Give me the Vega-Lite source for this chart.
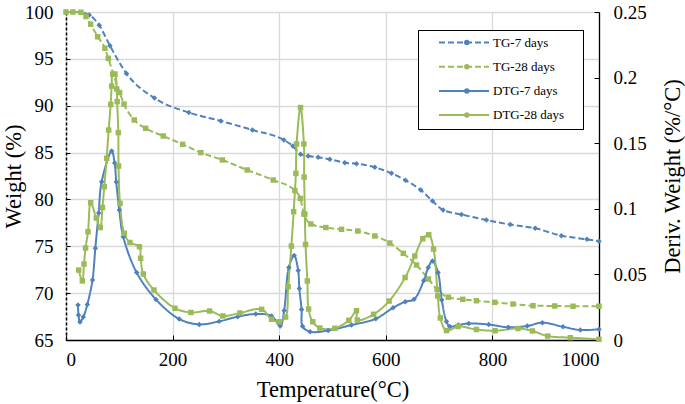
{
  "$schema": "https://vega.github.io/schema/vega-lite/v6.json",
  "width": 533,
  "height": 328,
  "autosize": {"type": "none"},
  "padding": {"left": 66, "top": 12, "right": 86, "bottom": 64},
  "background": "white",
  "config": {
    "font": "Liberation Serif",
    "view": {"stroke": null},
    "axis": {"labelColor": "black", "titleColor": "black", "labelFont": "Liberation Serif", "titleFont": "Liberation Serif", "titleFontWeight": "normal", "labelFontSize": 19, "titleFontSize": 22.5}
  },
  "datasets": {
    "tg": [
      {"series": "TG-7 days", "T": 0, "v": 100}, {"series": "TG-7 days", "T": 13, "v": 100}, {"series": "TG-7 days", "T": 28, "v": 99.95}, {"series": "TG-7 days", "T": 43.7, "v": 99.68}, {"series": "TG-7 days", "T": 62.4, "v": 98.58}, {"series": "TG-7 days", "T": 82.5, "v": 96.4}, {"series": "TG-7 days", "T": 113.4, "v": 93.44}, {"series": "TG-7 days", "T": 166, "v": 90.82}, {"series": "TG-7 days", "T": 230.6, "v": 89.27}, {"series": "TG-7 days", "T": 290.6, "v": 88.37}, {"series": "TG-7 days", "T": 349.7, "v": 87.41}, {"series": "TG-7 days", "T": 408.8, "v": 86.34}, {"series": "TG-7 days", "T": 425.6, "v": 85.7}, {"series": "TG-7 days", "T": 440, "v": 84.82}, {"series": "TG-7 days", "T": 454.3, "v": 84.63}, {"series": "TG-7 days", "T": 473, "v": 84.49}, {"series": "TG-7 days", "T": 495, "v": 84.28}, {"series": "TG-7 days", "T": 523, "v": 83.92}, {"series": "TG-7 days", "T": 545, "v": 83.81}, {"series": "TG-7 days", "T": 579.4, "v": 83.43}, {"series": "TG-7 days", "T": 610.7, "v": 82.79}, {"series": "TG-7 days", "T": 637, "v": 82.04}, {"series": "TG-7 days", "T": 665.6, "v": 81.0}, {"series": "TG-7 days", "T": 687.6, "v": 79.83}, {"series": "TG-7 days", "T": 707.4, "v": 78.87}, {"series": "TG-7 days", "T": 742, "v": 78.39}, {"series": "TG-7 days", "T": 788.8, "v": 77.8}, {"series": "TG-7 days", "T": 833.4, "v": 77.32}, {"series": "TG-7 days", "T": 880.3, "v": 76.92}, {"series": "TG-7 days", "T": 929.4, "v": 76.13}, {"series": "TG-7 days", "T": 977.4, "v": 75.74}, {"series": "TG-7 days", "T": 1000, "v": 75.53},
      {"series": "TG-28 days", "T": 0, "v": 100}, {"series": "TG-28 days", "T": 13, "v": 100}, {"series": "TG-28 days", "T": 28, "v": 99.97}, {"series": "TG-28 days", "T": 37.5, "v": 99.52}, {"series": "TG-28 days", "T": 46.3, "v": 98.7}, {"series": "TG-28 days", "T": 59.4, "v": 97.36}, {"series": "TG-28 days", "T": 73, "v": 96.13}, {"series": "TG-28 days", "T": 79.3, "v": 95.06}, {"series": "TG-28 days", "T": 100.6, "v": 91.4}, {"series": "TG-28 days", "T": 108.8, "v": 90.18}, {"series": "TG-28 days", "T": 128, "v": 88.48}, {"series": "TG-28 days", "T": 149.4, "v": 87.59}, {"series": "TG-28 days", "T": 182.4, "v": 86.77}, {"series": "TG-28 days", "T": 218.8, "v": 85.88}, {"series": "TG-28 days", "T": 253, "v": 84.99}, {"series": "TG-28 days", "T": 293.4, "v": 84.21}, {"series": "TG-28 days", "T": 340, "v": 83.14}, {"series": "TG-28 days", "T": 388.7, "v": 82.07}, {"series": "TG-28 days", "T": 429.4, "v": 80.95}, {"series": "TG-28 days", "T": 439.7, "v": 80.1}, {"series": "TG-28 days", "T": 446.3, "v": 78.44}, {"series": "TG-28 days", "T": 459.4, "v": 77.38}, {"series": "TG-28 days", "T": 487.5, "v": 77.0}, {"series": "TG-28 days", "T": 517, "v": 76.81}, {"series": "TG-28 days", "T": 547.5, "v": 76.63}, {"series": "TG-28 days", "T": 579.4, "v": 76.1}, {"series": "TG-28 days", "T": 607.5, "v": 75.35}, {"series": "TG-28 days", "T": 632.8, "v": 74.25}, {"series": "TG-28 days", "T": 657.6, "v": 73.0}, {"series": "TG-28 days", "T": 680, "v": 71.51}, {"series": "TG-28 days", "T": 696.2, "v": 70.39}, {"series": "TG-28 days", "T": 717.2, "v": 69.56}, {"series": "TG-28 days", "T": 744.4, "v": 69.34}, {"series": "TG-28 days", "T": 770, "v": 69.19}, {"series": "TG-28 days", "T": 804.4, "v": 69.02}, {"series": "TG-28 days", "T": 838.7, "v": 68.84}, {"series": "TG-28 days", "T": 876.2, "v": 68.66}, {"series": "TG-28 days", "T": 916.9, "v": 68.63}, {"series": "TG-28 days", "T": 951.2, "v": 68.6}, {"series": "TG-28 days", "T": 1000, "v": 68.6}
    ],
    "dtg": [
      {"series": "DTG-7 days", "T": 22.5, "v": 0.0267}, {"series": "DTG-7 days", "T": 23.5, "v": 0.0191}, {"series": "DTG-7 days", "T": 26.3, "v": 0.0137}, {"series": "DTG-7 days", "T": 32.4, "v": 0.0175}, {"series": "DTG-7 days", "T": 40, "v": 0.0271}, {"series": "DTG-7 days", "T": 49.7, "v": 0.0457}, {"series": "DTG-7 days", "T": 55, "v": 0.0699}, {"series": "DTG-7 days", "T": 61.3, "v": 0.0968}, {"series": "DTG-7 days", "T": 66.9, "v": 0.1206}, {"series": "DTG-7 days", "T": 85.7, "v": 0.144}, {"series": "DTG-7 days", "T": 91.3, "v": 0.1349}, {"series": "DTG-7 days", "T": 94.3, "v": 0.1204}, {"series": "DTG-7 days", "T": 100, "v": 0.0991}, {"series": "DTG-7 days", "T": 107.4, "v": 0.0787}, {"series": "DTG-7 days", "T": 132.6, "v": 0.0514}, {"series": "DTG-7 days", "T": 168.8, "v": 0.0309}, {"series": "DTG-7 days", "T": 212.4, "v": 0.016}, {"series": "DTG-7 days", "T": 250, "v": 0.0119}, {"series": "DTG-7 days", "T": 287.4, "v": 0.0142}, {"series": "DTG-7 days", "T": 322, "v": 0.0178}, {"series": "DTG-7 days", "T": 356, "v": 0.0198}, {"series": "DTG-7 days", "T": 385.7, "v": 0.0183}, {"series": "DTG-7 days", "T": 402, "v": 0.0107}, {"series": "DTG-7 days", "T": 409.3, "v": 0.0225}, {"series": "DTG-7 days", "T": 418, "v": 0.0552}, {"series": "DTG-7 days", "T": 428, "v": 0.0645}, {"series": "DTG-7 days", "T": 435.6, "v": 0.053}, {"series": "DTG-7 days", "T": 437.8, "v": 0.0392}, {"series": "DTG-7 days", "T": 442, "v": 0.0232}, {"series": "DTG-7 days", "T": 443.8, "v": 0.0104}, {"series": "DTG-7 days", "T": 458, "v": 0.0063}, {"series": "DTG-7 days", "T": 491.8, "v": 0.0072}, {"series": "DTG-7 days", "T": 535.7, "v": 0.0114}, {"series": "DTG-7 days", "T": 581.3, "v": 0.0162}, {"series": "DTG-7 days", "T": 613.7, "v": 0.0246}, {"series": "DTG-7 days", "T": 636.6, "v": 0.0292}, {"series": "DTG-7 days", "T": 653, "v": 0.031}, {"series": "DTG-7 days", "T": 671.3, "v": 0.0453}, {"series": "DTG-7 days", "T": 679.7, "v": 0.0552}, {"series": "DTG-7 days", "T": 687.6, "v": 0.0602}, {"series": "DTG-7 days", "T": 698, "v": 0.0514}, {"series": "DTG-7 days", "T": 705, "v": 0.0305}, {"series": "DTG-7 days", "T": 713.8, "v": 0.0141}, {"series": "DTG-7 days", "T": 720, "v": 0.0103}, {"series": "DTG-7 days", "T": 736, "v": 0.0114}, {"series": "DTG-7 days", "T": 755.6, "v": 0.0126}, {"series": "DTG-7 days", "T": 793, "v": 0.0118}, {"series": "DTG-7 days", "T": 829.7, "v": 0.0097}, {"series": "DTG-7 days", "T": 865.3, "v": 0.0107}, {"series": "DTG-7 days", "T": 893.8, "v": 0.0132}, {"series": "DTG-7 days", "T": 932.4, "v": 0.0101}, {"series": "DTG-7 days", "T": 965, "v": 0.0076}, {"series": "DTG-7 days", "T": 1000, "v": 0.0082},
      {"series": "DTG-28 days", "T": 23.8, "v": 0.0533}, {"series": "DTG-28 days", "T": 30.6, "v": 0.045}, {"series": "DTG-28 days", "T": 33.8, "v": 0.0579}, {"series": "DTG-28 days", "T": 36.6, "v": 0.0701}, {"series": "DTG-28 days", "T": 41.3, "v": 0.0825}, {"series": "DTG-28 days", "T": 46.3, "v": 0.1046}, {"series": "DTG-28 days", "T": 56.8, "v": 0.093}, {"series": "DTG-28 days", "T": 64.3, "v": 0.0857}, {"series": "DTG-28 days", "T": 68.4, "v": 0.101}, {"series": "DTG-28 days", "T": 71.8, "v": 0.1168}, {"series": "DTG-28 days", "T": 76.3, "v": 0.1385}, {"series": "DTG-28 days", "T": 80, "v": 0.16}, {"series": "DTG-28 days", "T": 83.8, "v": 0.1796}, {"series": "DTG-28 days", "T": 85.7, "v": 0.1935}, {"series": "DTG-28 days", "T": 87.6, "v": 0.2027}, {"series": "DTG-28 days", "T": 91.9, "v": 0.2027}, {"series": "DTG-28 days", "T": 95.1, "v": 0.1913}, {"series": "DTG-28 days", "T": 96, "v": 0.1817}, {"series": "DTG-28 days", "T": 98.1, "v": 0.1581}, {"series": "DTG-28 days", "T": 98.6, "v": 0.1326}, {"series": "DTG-28 days", "T": 101.3, "v": 0.1042}, {"series": "DTG-28 days", "T": 109.3, "v": 0.0813}, {"series": "DTG-28 days", "T": 120, "v": 0.0743}, {"series": "DTG-28 days", "T": 137.8, "v": 0.0711}, {"series": "DTG-28 days", "T": 140, "v": 0.0623}, {"series": "DTG-28 days", "T": 145, "v": 0.0503}, {"series": "DTG-28 days", "T": 165, "v": 0.0381}, {"series": "DTG-28 days", "T": 204.4, "v": 0.0242}, {"series": "DTG-28 days", "T": 234.4, "v": 0.021}, {"series": "DTG-28 days", "T": 269.4, "v": 0.0221}, {"series": "DTG-28 days", "T": 294.4, "v": 0.0183}, {"series": "DTG-28 days", "T": 326.3, "v": 0.0206}, {"series": "DTG-28 days", "T": 367, "v": 0.0234}, {"series": "DTG-28 days", "T": 385.7, "v": 0.0158}, {"series": "DTG-28 days", "T": 400, "v": 0.0139}, {"series": "DTG-28 days", "T": 412, "v": 0.0175}, {"series": "DTG-28 days", "T": 416.8, "v": 0.0406}, {"series": "DTG-28 days", "T": 422.8, "v": 0.0716}, {"series": "DTG-28 days", "T": 427.1, "v": 0.0978}, {"series": "DTG-28 days", "T": 431.3, "v": 0.127}, {"series": "DTG-28 days", "T": 432.6, "v": 0.1494}, {"series": "DTG-28 days", "T": 440, "v": 0.1772}, {"series": "DTG-28 days", "T": 446.3, "v": 0.1494}, {"series": "DTG-28 days", "T": 446.8, "v": 0.1242}, {"series": "DTG-28 days", "T": 448.1, "v": 0.096}, {"series": "DTG-28 days", "T": 449.4, "v": 0.0728}, {"series": "DTG-28 days", "T": 452.8, "v": 0.045}, {"series": "DTG-28 days", "T": 455.1, "v": 0.0236}, {"series": "DTG-28 days", "T": 463, "v": 0.0139}, {"series": "DTG-28 days", "T": 476.3, "v": 0.0091}, {"series": "DTG-28 days", "T": 504.4, "v": 0.0089}, {"series": "DTG-28 days", "T": 530.6, "v": 0.015}, {"series": "DTG-28 days", "T": 545, "v": 0.0223}, {"series": "DTG-28 days", "T": 546.6, "v": 0.0152}, {"series": "DTG-28 days", "T": 577.1, "v": 0.0196}, {"series": "DTG-28 days", "T": 606.2, "v": 0.0297}, {"series": "DTG-28 days", "T": 636.2, "v": 0.0476}, {"series": "DTG-28 days", "T": 654.4, "v": 0.064}, {"series": "DTG-28 days", "T": 669.4, "v": 0.0772}, {"series": "DTG-28 days", "T": 680.6, "v": 0.0802}, {"series": "DTG-28 days", "T": 689.6, "v": 0.0693}, {"series": "DTG-28 days", "T": 697.5, "v": 0.0335}, {"series": "DTG-28 days", "T": 702.2, "v": 0.0168}, {"series": "DTG-28 days", "T": 713.8, "v": 0.0072}, {"series": "DTG-28 days", "T": 735.6, "v": 0.0103}, {"series": "DTG-28 days", "T": 770, "v": 0.008}, {"series": "DTG-28 days", "T": 805, "v": 0.0071}, {"series": "DTG-28 days", "T": 848, "v": 0.0088}, {"series": "DTG-28 days", "T": 875, "v": 0.0069}, {"series": "DTG-28 days", "T": 903.8, "v": 0.003}, {"series": "DTG-28 days", "T": 946.3, "v": 0.0018}, {"series": "DTG-28 days", "T": 1000, "v": 0.0005}
    ]
  },
  "layer": [
    {
      "data": {"name": "tg"},
      "encoding": {
        "x": {"field": "T", "type": "quantitative", "scale": {"domain": [0, 1000], "nice": false},
          "axis": {"title": "Temperature(°C)", "values": [0, 200, 400, 600, 800, 1000], "format": "d", "grid": true, "gridColor": "#d9d9d9", "gridWidth": 1.3, "domainColor": "black", "domainWidth": 1.3, "tickColor": "black", "tickSize": -5, "labelPadding": 15, "titlePadding": 9}},
        "y": {"field": "v", "type": "quantitative", "scale": {"domain": [65, 100], "nice": false, "zero": false},
          "axis": {"title": "Weight (%)", "values": [65, 70, 75, 80, 85, 90, 95, 100], "grid": true, "gridColor": "#d9d9d9", "gridWidth": 1.3, "domainColor": "black", "domainDash": [3, 2], "domainWidth": 1.5, "tickColor": "black", "tickSize": -4, "labelPadding": 17, "titlePadding": -1}}
      },
      "layer": [
        {
          "mark": {"type": "line", "strokeWidth": 2, "interpolate": "monotone"},
          "encoding": {
            "color": {"field": "series", "type": "nominal", "scale": {"domain": ["TG-7 days", "TG-28 days", "DTG-7 days", "DTG-28 days"], "range": ["#4F81BD", "#9BBB59", "#4F81BD", "#9BBB59"]},
              "legend": {"orient": "none", "legendX": 352, "legendY": 18, "title": null, "padding": 6, "rowPadding": 10.2, "labelFontSize": 13, "labelFont": "Liberation Serif", "labelColor": "black", "symbolType": "stroke", "symbolSize": 2500, "symbolStrokeWidth": 2, "symbolOffset": 14, "labelOffset": 3, "clipHeight": 13, "zindex": 3}},
            "strokeDash": {"field": "series", "type": "nominal", "scale": {"domain": ["TG-7 days", "TG-28 days", "DTG-7 days", "DTG-28 days"], "range": [[6, 3], [6, 3], [1, 0], [1, 0]]},
              "legend": {"orient": "none", "legendX": 352, "legendY": 18, "title": null, "padding": 6, "rowPadding": 10.2, "labelFontSize": 13, "labelFont": "Liberation Serif", "labelColor": "black", "symbolType": "stroke", "symbolSize": 2500, "symbolStrokeWidth": 2, "symbolOffset": 14, "labelOffset": 3, "clipHeight": 13, "zindex": 3}}
          }
        },
        {
          "mark": {"type": "point", "filled": true, "size": 30, "opacity": 1},
          "encoding": {
            "fill": {"field": "series", "type": "nominal", "sort": ["TG-7 days", "TG-28 days", "DTG-7 days", "DTG-28 days"], "scale": {"range": ["#4F81BD", "#9BBB59", "#4F81BD", "#9BBB59"]},
              "legend": {"orient": "none", "legendX": 352, "legendY": 18, "title": null, "padding": 6, "rowPadding": 10.2, "labelFontSize": 13, "labelFont": "Liberation Serif", "labelExpr": "''", "symbolSize": 30, "symbolOffset": 36.3, "labelOffset": 103, "clipHeight": 13, "strokeColor": "black", "fillColor": "white", "zindex": 1}},
            "shape": {"field": "series", "type": "nominal", "sort": ["TG-7 days", "TG-28 days", "DTG-7 days", "DTG-28 days"], "scale": {"range": ["diamond", "square", "diamond", "square"]},
              "legend": {"orient": "none", "legendX": 352, "legendY": 18, "title": null, "padding": 6, "rowPadding": 10.2, "labelFontSize": 13, "labelFont": "Liberation Serif", "labelExpr": "''", "symbolSize": 30, "symbolOffset": 36.3, "labelOffset": 103, "clipHeight": 13, "strokeColor": "black", "fillColor": "white", "zindex": 1}}
          }
        }
      ]
    },
    {
      "data": {"name": "dtg"},
      "encoding": {
        "x": {"field": "T", "type": "quantitative", "scale": {"domain": [0, 1000], "nice": false},
          "axis": {"title": "Temperature(°C)", "values": [0, 200, 400, 600, 800, 1000], "format": "d", "grid": true, "gridColor": "#d9d9d9", "gridWidth": 1.3, "domainColor": "black", "domainWidth": 1.3, "tickColor": "black", "tickSize": -5, "labelPadding": 15, "titlePadding": 9}},
        "y": {"field": "v", "type": "quantitative", "scale": {"domain": [0, 0.25], "nice": false},
          "axis": {"orient": "right", "title": "Deriv. Weight (%/°C)", "titleAngle": 270, "values": [0, 0.05, 0.1, 0.15, 0.2, 0.25], "format": "~g", "grid": false, "domainColor": "black", "domainWidth": 1.3, "tickColor": "black", "tickSize": -5, "labelPadding": 19, "titlePadding": 38}}
      },
      "layer": [
        {
          "mark": {"type": "line", "strokeWidth": 2, "interpolate": "catmull-rom"},
          "encoding": {
            "color": {"field": "series", "type": "nominal"},
            "strokeDash": {"field": "series", "type": "nominal"}
          }
        },
        {
          "mark": {"type": "point", "filled": true, "size": 30, "opacity": 1},
          "encoding": {
            "fill": {"field": "series", "type": "nominal", "sort": ["TG-7 days", "TG-28 days", "DTG-7 days", "DTG-28 days"]},
            "shape": {"field": "series", "type": "nominal", "sort": ["TG-7 days", "TG-28 days", "DTG-7 days", "DTG-28 days"]}
          }
        }
      ]
    }
  ],
  "resolve": {"scale": {"y": "independent"}}
}
